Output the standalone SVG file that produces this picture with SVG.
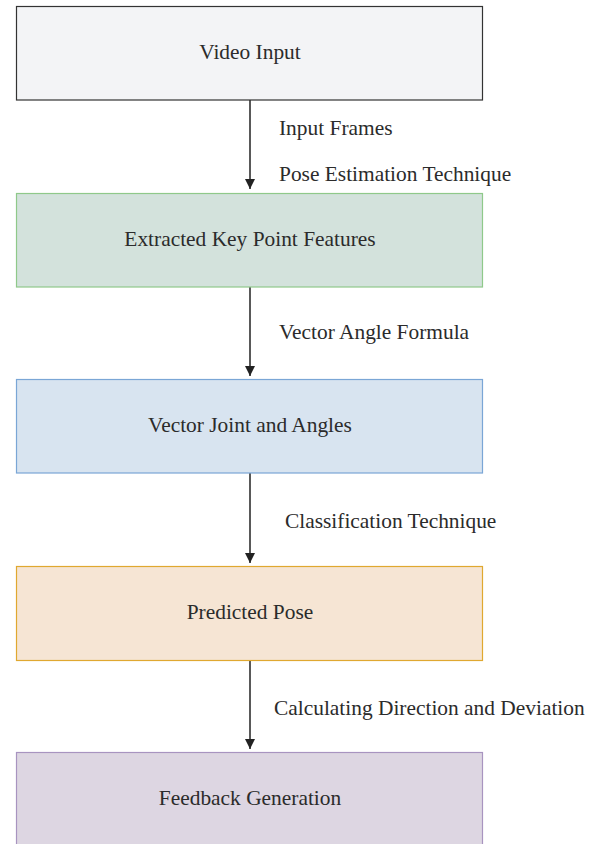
<svg xmlns="http://www.w3.org/2000/svg" width="595" height="844" viewBox="0 0 595 844">
<defs>
<style>
.box{stroke-width:1.2}
.t{font-family:"Liberation Serif","Times New Roman",serif;font-size:21.4px;fill:#2b2b2b}
.c{text-anchor:middle}
.edge{stroke:#222;stroke-width:1.5;fill:none}
</style>
<marker id="ah" viewBox="0 0 10 10" refX="10" refY="5" markerWidth="10" markerHeight="10" markerUnits="userSpaceOnUse" orient="auto">
<path d="M0,0 L10,5 L0,10 z" fill="#222"/>
</marker>
</defs>
<rect width="595" height="844" fill="#fff"/>
<g id="connectors">
<line class="edge" x1="250" y1="100" x2="250" y2="189" marker-end="url(#ah)"/>
<line class="edge" x1="250" y1="287" x2="250" y2="376" marker-end="url(#ah)"/>
<line class="edge" x1="250" y1="473" x2="250" y2="563" marker-end="url(#ah)"/>
<line class="edge" x1="250" y1="661" x2="250" y2="749" marker-end="url(#ah)"/>
<text class="t" x="279" y="135">Input Frames</text>
<text class="t" x="279" y="181">Pose Estimation Technique</text>
<text class="t" x="279" y="339">Vector Angle Formula</text>
<text class="t" x="285" y="528">Classification Technique</text>
<text class="t" x="274" y="715">Calculating Direction and Deviation</text>
</g>
<g id="video-input">
<rect class="box" x="16.5" y="6.5" width="466" height="93.5" fill="#f3f4f6" stroke="#333"/>
<text class="t c" x="250" y="59">Video Input</text>
</g>
<g id="key-point-features">
<rect class="box" x="16.5" y="193.5" width="466" height="93.5" fill="#d3e2dc" stroke="#8fc98a"/>
<text class="t c" x="250" y="246">Extracted Key Point Features</text>
</g>
<g id="vector-joint">
<rect class="box" x="16.5" y="379.5" width="466" height="93.5" fill="#d8e4f0" stroke="#7aa6d6"/>
<text class="t c" x="250" y="432">Vector Joint and Angles</text>
</g>
<g id="predicted-pose">
<rect class="box" x="16.5" y="566.5" width="466" height="94" fill="#f6e5d4" stroke="#e0a830"/>
<text class="t c" x="250" y="619">Predicted Pose</text>
</g>
<g id="feedback">
<rect class="box" x="16.5" y="752.5" width="466" height="100" fill="#ddd6e2" stroke="#a894c0"/>
<text class="t c" x="250" y="805">Feedback Generation</text>
</g>
</svg>
